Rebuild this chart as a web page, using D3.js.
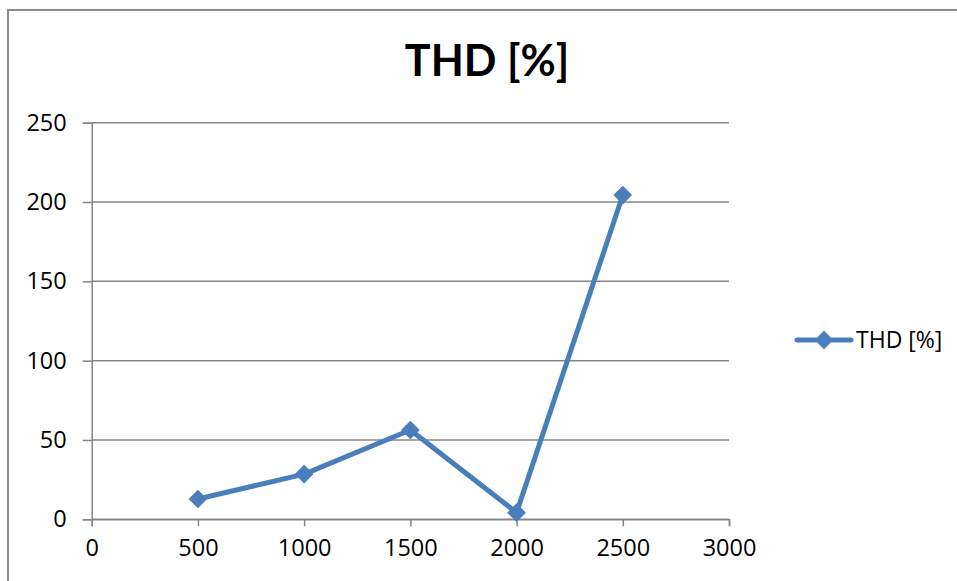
<!DOCTYPE html>
<html><head><meta charset="utf-8">
<script src="https://cdn.jsdelivr.net/npm/d3@7"></script>
<style>body{margin:0;background:#fff}svg{display:block}</style>
</head><body>
<script>
const xValues = [500, 1000, 1500, 2000, 2500];
const thdValues = [12.8, 28.5, 56.3, 4.2, 204.4];
const xTicks = [0, 500, 1000, 1500, 2000, 2500, 3000];
const yTicks = [0, 50, 100, 150, 200, 250];
const seriesName = "THD [%]";
const title = "THD [%]";

const W = 957, H = 581;
const svg = d3.select("body").append("svg").attr("width", W).attr("height", H);
const font = "'Open Sans', Lato, sans-serif";
const titleFont = "Lato, 'Open Sans', sans-serif";
const gridColor = "#868686";
const blue = "#4A7EBB";

// chart border
svg.append("rect").attr("x", 8).attr("y", 10).attr("width", 1000).attr("height", 1000)
  .attr("fill", "#fff").attr("stroke", "#8c8c8c").attr("stroke-width", 2);

const x = d3.scaleLinear().domain([0, 3000]).range([91.7, 729]);
const y = d3.scaleLinear().domain([0, 250]).range([519.3, 122.7]);

// gridlines
svg.append("g").selectAll("line").data(yTicks).join("line")
  .attr("x1", x(0)).attr("x2", x(3000))
  .attr("y1", d => y(d)).attr("y2", d => y(d))
  .attr("stroke", gridColor).attr("stroke-width", 1.5);

// y axis
const yAxis = svg.append("g").attr("transform", `translate(${x(0)},0)`)
  .call(d3.axisLeft(y).tickValues(yTicks).tickSize(9).tickPadding(16).tickFormat(d3.format("d")));
// x axis
const xAxis = svg.append("g").attr("transform", `translate(0,${y(0)})`)
  .call(d3.axisBottom(x).tickValues(xTicks).tickSize(7).tickPadding(13).tickFormat(d3.format("d")));
[yAxis, xAxis].forEach(a => {
  a.select(".domain").attr("stroke", gridColor).attr("stroke-width", 1.5);
  a.selectAll(".tick line").attr("stroke", gridColor).attr("stroke-width", 1.5);
  a.selectAll("text").attr("fill", "#000").style("font-family", font).style("font-size", "23.5px");
});

// line
const data = xValues.map((v, i) => ({x: v, y: thdValues[i]}));
svg.append("path").datum(data)
  .attr("d", d3.line().x(d => x(d.x)).y(d => y(d.y)))
  .attr("fill", "none").attr("stroke", blue).attr("stroke-width", 5).attr("stroke-linejoin", "round");

const marker = d3.symbol().type(d3.symbolSquare).size(175);
svg.append("g").selectAll("path").data(data).join("path")
  .attr("d", marker)
  .attr("transform", d => `translate(${x(d.x)},${y(d.y)}) rotate(45)`)
  .attr("fill", blue);

// title
svg.append("text").attr("x", 487).attr("y", 76).attr("text-anchor", "middle")
  .style("font-family", titleFont).style("font-size", "43px").style("font-weight", "bold")
  .text(title);

// legend
const lg = svg.append("g");
lg.append("line").attr("x1", 797).attr("x2", 851).attr("y1", 340).attr("y2", 340)
  .attr("stroke", blue).attr("stroke-width", 5).attr("stroke-linecap", "round");
lg.append("path").attr("d", marker).attr("transform", "translate(824,340) rotate(45)").attr("fill", blue);
lg.append("text").attr("x", 856).attr("y", 348)
  .style("font-family", font).style("font-size", "23px").text(seriesName);
</script>
</body></html>
